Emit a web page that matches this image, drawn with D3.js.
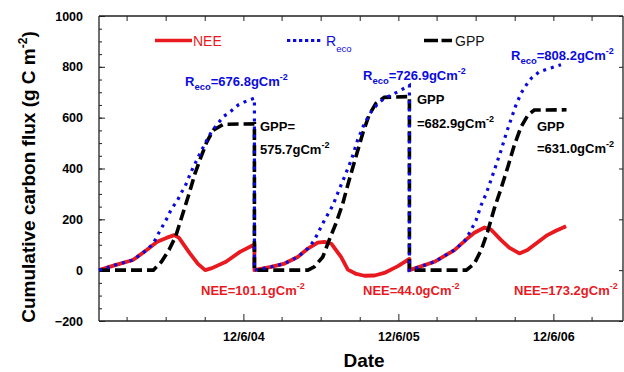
<!DOCTYPE html>
<html><head><meta charset="utf-8">
<script src="https://cdn.jsdelivr.net/npm/d3@7"></script>
<style>
body{margin:0;background:#fff}
svg{display:block}
text{font-family:Arial,"Liberation Sans",sans-serif}
</style>
</head><body><svg id="c" width="624" height="372"></svg>
<script>
// ---------------- data ----------------
const years = [2004, 2005, 2006];
// day of year offsets and cumulative values (g C m-2) per year
const neeDays = [
  [0,38,80,113,137,160,177,188,214,233,250,266,299,332,366],
  [0,39,71,102,126,149,165,181,204,220,240,259,283,306,338,365],
  [0,20,59,106,137,153,177,192,216,235,259,278,325,345,369]
];
const neeVals = [
  [0,20,40,80,112,128,138,128,66,25,0,8,33,72,101.1],
  [0,13,26,52,85,108,111,104,52,2,-15,-22,-21,-11,16,44.0],
  [0,11,33,79,125,147,168,160,118,89,66,79,138,155,173.2]
];
const recoDays = [
  [0,38,80,113,128,140,151,162,171,183,193,203,218,234,250,265,277,293,309,328,344,366],
  [0,39,71,102,126,141,153,165,174,185,196,212,228,243,259,275,291,306,322,338,365],
  [0,20,59,106,130,145,157,169,181,192,204,216,228,240,251,263,275,287,306,330,357]
];
const recoVals = [
  [0,20,40,80,106,144,177,210,243,269,302,331,391,446,499,545,571,604,623,650,663,676.8],
  [0,13,26,52,85,118,157,197,223,256,302,367,433,512,577,623,656,676,689,702,726.9],
  [0,11,33,79,115,157,197,256,302,354,413,472,538,597,650,696,728,755,781,794,808.2]
];
const gppDays = [
  [0,128,147,165,181,196,212,226,240,254,269,293,366],
  [0,126,141,161,176,192,208,223,239,255,270,286,306,365],
  [0,134,153,169,184,200,216,232,247,263,279,294,370]
];
const gppVals = [
  [0,0,33,80,135,215,300,380,445,505,551,574,575.7],
  [0,0,13,52,118,184,262,354,446,538,610,656,680,682.9],
  [0,0,26,79,150,243,322,407,492,564,610,630,631.0]
];
const yMajorTicks = [-200,0,200,400,600,800,1000];
const xMajorTicks = ["2004-12-06","2005-12-06","2006-12-06"];
const xMajorLabels = ["12/6/04","12/6/05","12/6/06"];
const xMinorTicks = ["2004-03-06","2004-06-06","2004-09-06","2005-03-06","2005-06-06","2005-09-06",
                     "2006-03-06","2006-06-06","2006-09-06","2007-03-06"];
const seriesNames = ["NEE","Reco","GPP"];
const totals = {reco:["676.8","726.9","808.2"], gpp:["575.7","682.9","631.0"], nee:["101.1","44.0","173.2"]};

// ---------------- setup ----------------
const svg = d3.select("#c");
const L = 99, R = 623, T = 16, B = 321;
const parse = d3.timeParse("%Y-%m-%d");
const x = d3.scaleTime().domain([new Date(2004,0,1), new Date(2007,4,19)]).range([L, R]);
const y = d3.scaleLinear().domain([-200, 1000]).range([B, T]);

const toSeries = (daysArr, valsArr) => {
  const pts = [];
  years.forEach((yr, i) => {
    const base = +new Date(yr, 0, 1);
    daysArr[i].forEach((d, j) => pts.push({t: new Date(base + d * 864e5), v: valsArr[i][j]}));
  });
  return pts;
};
const nee = toSeries(neeDays, neeVals);
const reco = toSeries(recoDays, recoVals);
const gpp = toSeries(gppDays, gppVals);

const RED = "#e8191f", BLUE = "#0a0ae0", BLACK = "#000";

// ---------------- axes ----------------
const axisColor = "#222";
function styleAxis(g){
  g.select(".domain").remove();
  g.selectAll(".tick line").attr("stroke", axisColor).attr("stroke-width", 1);
  g.selectAll(".tick text").attr("font-size", 12.5).attr("font-weight", "bold").attr("fill", "#000")
   .attr("font-family", 'Arial,"Liberation Sans",sans-serif');
}
const yMinor = d3.range(-200, 1001, 50);
svg.append("g").attr("transform", `translate(${L},0)`)
  .call(d3.axisLeft(y).tickValues(yMinor).tickSize(-3).tickFormat(""))
  .call(styleAxis);
svg.append("g").attr("transform", `translate(${L},0)`)
  .call(d3.axisLeft(y).tickValues(yMajorTicks).tickSize(-6).tickPadding(16).tickFormat(d3.format("d")))
  .call(styleAxis);
svg.append("g").attr("transform", `translate(${R},0)`)
  .call(d3.axisRight(y).tickValues(yMajorTicks).tickSize(-4).tickFormat(""))
  .call(styleAxis);
const allX = xMinorTicks.concat(xMajorTicks).map(parse);
svg.append("g").attr("transform", `translate(0,${B})`)
  .call(d3.axisBottom(x).tickValues(xMinorTicks.map(parse)).tickSize(-4).tickFormat(""))
  .call(styleAxis);
svg.append("g").attr("transform", `translate(0,${B})`)
  .call(d3.axisBottom(x).tickValues(xMajorTicks.map(parse)).tickSize(-7).tickPadding(11)
        .tickFormat((d, i) => xMajorLabels[i]))
  .call(styleAxis);
svg.append("g").attr("transform", `translate(0,${T})`)
  .call(d3.axisTop(x).tickValues(allX).tickSize(-5).tickFormat(""))
  .call(styleAxis);

// frame
svg.append("path").attr("d", `M${L},${T}H${R}M${L},${B}H${R}M${L},${T}V${B}M${R},${T}V${B}`)
  .attr("stroke", axisColor).attr("stroke-width", 1.3).attr("fill", "none");

// ---------------- lines ----------------
const line = d3.line().x(d => x(d.t)).y(d => y(d.v));
svg.append("path").datum(nee).attr("d", line).attr("fill", "none")
  .attr("stroke", RED).attr("stroke-width", 3.8).attr("stroke-linejoin", "round");
svg.append("path").datum(gpp).attr("d", line).attr("fill", "none")
  .attr("stroke", BLACK).attr("stroke-width", 3.6).attr("stroke-dasharray", "11,5");
svg.append("path").datum(reco).attr("d", line).attr("fill", "none")
  .attr("stroke", BLUE).attr("stroke-width", 3.2).attr("stroke-dasharray", "3,5");

// ---------------- legend ----------------
const lg = svg.append("g");
lg.append("line").attr("x1", 155).attr("x2", 192).attr("y1", 40.5).attr("y2", 40.5)
  .attr("stroke", RED).attr("stroke-width", 3.5);
lg.append("text").attr("x", 193).attr("y", 46).attr("font-size", 14).attr("fill", RED).text(seriesNames[0]);
lg.append("line").attr("x1", 287).attr("x2", 323).attr("y1", 40.5).attr("y2", 40.5)
  .attr("stroke", BLUE).attr("stroke-width", 3.2).attr("stroke-dasharray", "3.3,2.7");
const lr = lg.append("text").attr("x", 326).attr("y", 46).attr("font-size", 14).attr("fill", BLUE);
lr.append("tspan").text("R");
lr.append("tspan").attr("font-size", 9.5).attr("dy", 6).text("eco");
lg.append("line").attr("x1", 424).attr("x2", 452).attr("y1", 40.5).attr("y2", 40.5)
  .attr("stroke", BLACK).attr("stroke-width", 3.5).attr("stroke-dasharray", "14,3.5");
lg.append("text").attr("x", 455).attr("y", 46).attr("font-size", 14).attr("fill", "#111").text(seriesNames[2]);

// ---------------- annotations ----------------
function label(px, py, color, parts){
  const t = svg.append("text").attr("x", px).attr("y", py).attr("font-size", 13)
    .attr("font-weight", "bold").attr("fill", color);
  let shift = 0;
  parts.forEach(p => {
    const s = t.append("tspan").text(p.t);
    let target = 0;
    if (p.sub) { s.attr("font-size", 9.5); target = 4; }
    if (p.sup) { s.attr("font-size", 9); target = -6; }
    s.attr("dy", target - shift);
    shift = target;
  });
  return t;
}
const recoPos = [[185, 86], [363, 80], [511, 60]];
recoPos.forEach((p, i) => label(p[0], p[1], BLUE,
  [{t:"R"}, {t:"eco", sub:true}, {t:"=" + totals.reco[i] + "gCm"}, {t:"-2", sup:true}]));

label(260, 131, BLACK, [{t:"GPP="}]);
label(260, 154, BLACK, [{t: totals.gpp[0] + "gCm"}, {t:"-2", sup:true}]);
label(417, 104, BLACK, [{t:"GPP"}]);
label(417, 128, BLACK, [{t:"=" + totals.gpp[1] + "gCm"}, {t:"-2", sup:true}]);
label(537, 131, BLACK, [{t:"GPP"}]);
label(537, 153, BLACK, [{t:"=" + totals.gpp[2] + "gCm"}, {t:"-2", sup:true}]);

const neePos = [[201, 295], [363, 295], [514, 295]];
neePos.forEach((p, i) => label(p[0], p[1], RED,
  [{t:"NEE=" + totals.nee[i] + "gCm"}, {t:"-2", sup:true}]));

// ---------------- axis titles ----------------
const yt = svg.append("text").attr("transform", "translate(35,177) rotate(-90)")
  .attr("text-anchor", "middle").attr("font-size", 19).attr("font-weight", "bold").attr("fill", "#000");
yt.append("tspan").text("Cumulative carbon flux (g C m");
yt.append("tspan").attr("font-size", 12).attr("dy", -8).text("-2");
yt.append("tspan").attr("dy", 8).text(")");

svg.append("text").attr("x", 364).attr("y", 367).attr("text-anchor", "middle")
  .attr("font-size", 19).attr("font-weight", "bold").attr("fill", "#000").text("Date");
</script></body></html>
